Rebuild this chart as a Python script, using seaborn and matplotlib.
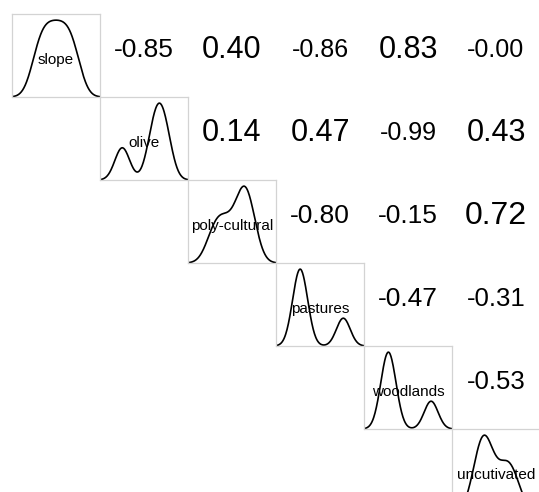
import matplotlib
matplotlib.use("Agg")
import matplotlib.pyplot as plt
import seaborn as sns
import numpy as np

# variable names (diagonal) - spelling kept as in the original
names = ["slope", "olive", "poly-cultural", "pastures", "woodlands", "uncutivated"]

# rough samples behind each density curve
slope = [28, 36, 44, 52, 60, 68]
olive = [25, 54, 60, 66]
polycultural = [35, 45, 58, 63, 67]
pastures = [26, 30, 34, 80]
woodlands = [26, 30, 34, 79]
uncultivated = [34, 38, 42, 56, 64]
samples = [slope, olive, polycultural, pastures, woodlands, uncultivated]
bandwidths = [9, 7, 8, 8, 8, 8]

# upper triangle correlations, row by row
corr_upper = [
    [-0.85, 0.40, -0.86, 0.83, -0.00],
    [0.14, 0.47, -0.99, 0.43],
    [-0.80, -0.15, 0.72],
    [-0.47, -0.31],
    [-0.53],
]
corr_sizes = [
    [19, 22, 18, 22, 18],
    [22, 22, 18, 22],
    [19, 19, 23],
    [19, 18.5],
    [18.5],
]

sns.set_style("white")
plt.rcParams['font.family'] = ['Liberation Sans', 'DejaVu Sans']

W, H = 539, 492
fig = plt.figure(figsize=(W / 100, H / 100), dpi=100)

x0, y0, cw, ch = 12, 14, 88, 83
n = len(names)

for i in range(n):
    for j in range(i, n):
        left = (x0 + cw * j) / W
        bottom = 1 - (y0 + ch * (i + 1)) / H
        ax = fig.add_axes([left, bottom, cw / W, ch / H])
        ax.set_xticks([])
        ax.set_yticks([])
        if i == j:
            v = samples[i]
            bw = bandwidths[i] / np.std(v, ddof=1)
            sns.kdeplot(x=v, bw_method=bw, ax=ax, color="black", linewidth=1.2)
            line = ax.lines[0]
            xs, ys = line.get_xdata(), line.get_ydata()
            ax.set_xlim(xs.min(), xs.max())
            ax.set_ylim(0, ys.max() * 1.08)
            ax.set_xlabel("")
            ax.set_ylabel("")
            for s in ax.spines.values():
                s.set_color("#d3d3d3")
                s.set_linewidth(0.9)
            ax.text(0.5, 0.45, names[i], transform=ax.transAxes,
                    ha="center", va="center", fontsize=11, color="black")
        else:
            r = corr_upper[i][j - i - 1]
            fs = corr_sizes[i][j - i - 1]
            ax.axis("off")
            ax.text(0.5, 0.57, f"{r:.2f}", transform=ax.transAxes,
                    ha="center", va="center", fontsize=fs, color="black")

fig.savefig("out.png", dpi=100)
